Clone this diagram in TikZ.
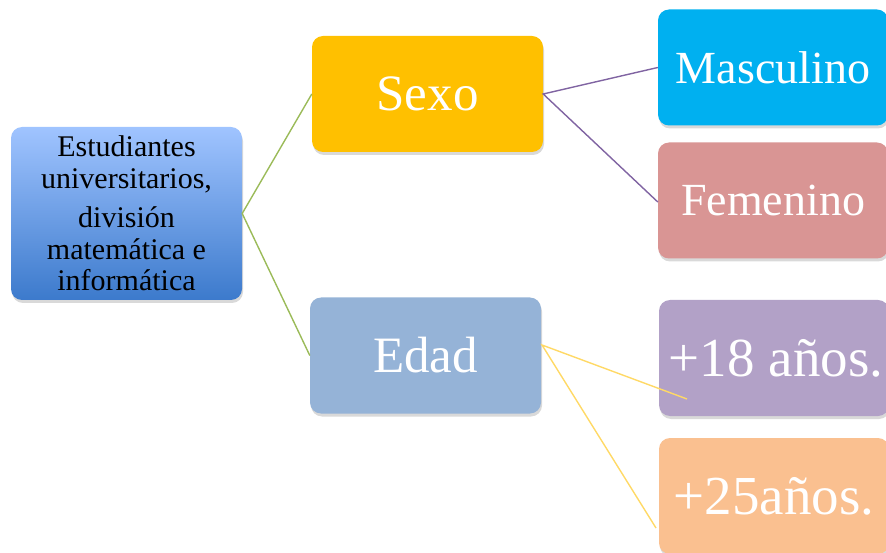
\documentclass[tikz,border=0pt]{standalone}
\usepackage{fontspec}
\setmainfont{Liberation Serif}
\usetikzlibrary{shadows,calc}
\definecolor{rootTop}{HTML}{A0C4FF}
\definecolor{rootBot}{HTML}{3C7ACC}
\definecolor{sexoC}{HTML}{FFC000}
\definecolor{edadC}{HTML}{95B3D7}
\definecolor{mascC}{HTML}{00B0F0}
\definecolor{femC}{HTML}{D99594}
\definecolor{dieC}{HTML}{B2A1C7}
\definecolor{veiC}{HTML}{FAC090}
\definecolor{greenL}{HTML}{9BBB59}
\definecolor{purpleL}{HTML}{8064A2}
\definecolor{yellowL}{HTML}{FFD966}
\tikzset{
  box/.style={rectangle, rounded corners=11pt, inner sep=0pt, align=center,
    drop shadow={opacity=0.3, shadow xshift=1pt, shadow yshift=-3pt}},
  midbox/.style={box, minimum width=231pt, minimum height=116pt, text=white, font=\fontsize{51}{55}\selectfont},
  leafbox/.style={box, minimum width=230pt, minimum height=116pt, text=white, font=\fontsize{46}{50}\selectfont},
  link/.style={line width=1.4pt}
}
\begin{document}
\begin{tikzpicture}[x=1pt,y=-1pt]
\useasboundingbox (0,0) rectangle (886,553);
\node[box, top color=rootTop, bottom color=rootBot, minimum width=231pt, minimum height=173pt,
  font=\fontsize{30}{31.5}\selectfont] (root) at (126.5,213.5)
  {Estudiantes\\universitarios,\\[8pt]división\\matemática e\\informática};
\node[midbox, fill=sexoC] (sexo) at (427.5,94) {Sexo};
\node[midbox, fill=edadC] (edad) at (425.5,355.5) {Edad};
\node[leafbox, fill=mascC] (masc) at (773,67.5) {Masculino};
\node[leafbox, fill=femC] (fem) at (773,200.5) {Femenino};
\node[leafbox, fill=dieC, font=\fontsize{55}{60}\selectfont] (n18) at (774,358) {\hspace*{4pt}+18 años.};
\node[leafbox, fill=veiC, font=\fontsize{55}{60}\selectfont] (n25) at (774,496) {+25años.};
\coordinate (edadout) at (542,345);
\coordinate (in18) at (687,399);
\coordinate (in25) at (656,528);
\draw[link, greenL] (sexo.west) -- (root.east) -- (edad.west);
\draw[link, purpleL] (masc.west) -- (sexo.east) -- ([yshift=-1.5pt]fem.west);
\draw[link, yellowL] (in18) -- (edadout) -- (in25);
\end{tikzpicture}
\end{document}
